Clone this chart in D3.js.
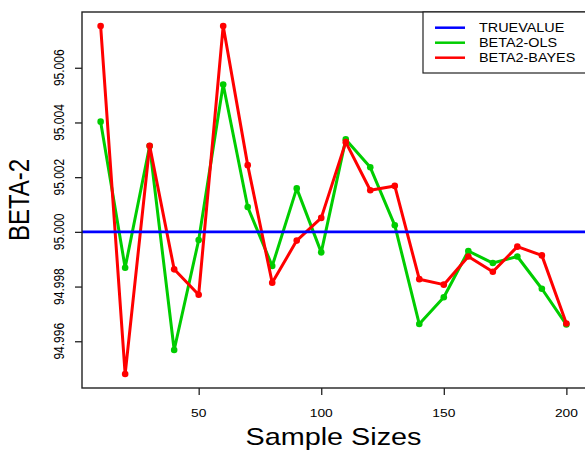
<!DOCTYPE html>
<html>
<head>
<meta charset="utf-8">
<script src="https://cdn.jsdelivr.net/npm/d3@7"></script>
<style>
  body { margin: 0; background: #fff; }
  text { font-family: "Liberation Sans", Arial, sans-serif; fill: #000; }
</style>
</head>
<body>
<div id="chart"></div>
<script>
// chart data
var sampleSizes = [10, 20, 30, 40, 50, 60, 70, 80, 90, 100, 110, 120, 130, 140, 150, 160, 170, 180, 190, 200];
var olsValues = [95.00403, 94.99869, 95.00314, 94.99568, 94.99970, 95.00539, 95.00091, 94.99875, 95.00159, 94.99925,
                 95.00338, 95.00236, 95.00024, 94.99663, 94.99761, 94.99930, 94.99886, 94.99910, 94.99792, 94.99661];
var bayesValues = [95.00753, 94.99480, 95.00315, 94.99863, 94.99770, 95.00753, 95.00244, 94.99814, 94.99968, 95.00051,
                   95.00328, 95.00152, 95.00168, 94.99827, 94.99807, 94.99910, 94.99854, 94.99946, 94.99914, 94.99665];
var trueValue = 95.0;
var xTicks = [50, 100, 150, 200];
var yTicks = [94.996, 94.998, 95.000, 95.002, 95.004, 95.006];
var legendLabels = ["TRUEVALUE", "BETA2-OLS", "BETA2-BAYES"];
var legendColors = ["#0000ff", "#00cd00", "#ff0000"];

//Width and height
var w = 585;
var h = 450;
var plotLeft = 82, plotRight = 585, plotTop = 12, plotBottom = 388;
var stretch = 1.2; // text in the picture is widened horizontally

// R-style 4% padding on each axis
function padded(values) {
    var ext = d3.extent(values);
    var r = ext[1] - ext[0];
    return [ext[0] - 0.04 * r, ext[1] + 0.04 * r];
}

var x = d3.scaleLinear()
          .domain(padded(sampleSizes))
          .range([plotLeft, plotRight]);

var y = d3.scaleLinear()
          .domain(padded(olsValues.concat(bayesValues)))
          .range([plotBottom, plotTop]);

var svg = d3.select("#chart")
            .append("svg")
            .attr("width", w)
            .attr("height", h);

svg.append("defs").append("clipPath")
   .attr("id", "plotclip")
   .append("rect")
   .attr("x", plotLeft).attr("y", plotTop)
   .attr("width", plotRight - plotLeft).attr("height", plotBottom - plotTop);

var plot = svg.append("g").attr("clip-path", "url(#plotclip)");

var line = d3.line()
             .x(function(d, i) { return x(sampleSizes[i]); })
             .y(function(d) { return y(d); });

// one series: line then points
function drawSeries(values, color) {
    plot.append("path")
        .datum(values)
        .attr("d", line)
        .attr("fill", "none")
        .attr("stroke", color)
        .attr("stroke-width", 3)
        .attr("stroke-linejoin", "round");

    plot.selectAll(null)
        .data(values)
        .enter()
        .append("circle")
        .attr("cx", function(d, i) { return x(sampleSizes[i]); })
        .attr("cy", function(d) { return y(d); })
        .attr("r", 3.3)
        .attr("fill", color);
}

drawSeries(olsValues, legendColors[1]);
drawSeries(bayesValues, legendColors[2]);

// true value line
plot.append("line")
    .attr("x1", plotLeft).attr("x2", plotRight)
    .attr("y1", y(trueValue)).attr("y2", y(trueValue))
    .attr("stroke", legendColors[0])
    .attr("stroke-width", 2.8);

// box
svg.append("rect")
   .attr("x", plotLeft).attr("y", plotTop)
   .attr("width", plotRight - plotLeft + 2).attr("height", plotBottom - plotTop)
   .attr("fill", "none")
   .attr("stroke", "#222")
   .attr("stroke-width", 1.4);

// x axis
var xAxis = d3.axisBottom(x)
              .tickValues(xTicks)
              .tickSize(7)
              .tickFormat(d3.format("d"));

var gx = svg.append("g")
            .attr("transform", "translate(0," + plotBottom + ")")
            .call(xAxis);
gx.select(".domain").remove();
gx.selectAll(".tick line").attr("stroke", "#222").attr("stroke-width", 1.3);
gx.selectAll(".tick text").remove();

svg.selectAll(".xlab")
   .data(xTicks)
   .enter()
   .append("text")
   .attr("transform", function(d) { return "translate(" + x(d) + ",417) scale(" + stretch + ",1)"; })
   .attr("text-anchor", "middle")
   .style("font-size", "11.5px")
   .text(function(d) { return d; });

// y axis
var yAxis = d3.axisLeft(y)
              .tickValues(yTicks)
              .tickSize(7);

var gy = svg.append("g")
            .attr("transform", "translate(" + plotLeft + ",0)")
            .call(yAxis);
gy.select(".domain").remove();
gy.selectAll(".tick line").attr("stroke", "#222").attr("stroke-width", 1.3);
gy.selectAll(".tick text").remove();

svg.selectAll(".ylab")
   .data(yTicks)
   .enter()
   .append("text")
   .attr("transform", function(d) { return "translate(64," + y(d) + ") scale(" + stretch + ",1) rotate(-90)"; })
   .attr("text-anchor", "middle")
   .style("font-size", "12px")
   .text(function(d) { return d3.format(".3f")(d); });

// axis titles
svg.append("text")
   .attr("transform", "translate(" + ((plotLeft + plotRight) / 2) + ",445) scale(" + stretch + ",1)")
   .attr("text-anchor", "middle")
   .style("font-size", "24px")
   .text("Sample Sizes");

svg.append("text")
   .attr("transform", "translate(29," + ((plotTop + plotBottom) / 2) + ") scale(" + stretch + ",1) rotate(-90)")
   .attr("text-anchor", "middle")
   .style("font-size", "24px")
   .text("BETA-2");

// legend
var legend = svg.append("g");
legend.append("rect")
      .attr("x", 423).attr("y", plotTop)
      .attr("width", 170).attr("height", 61)
      .attr("fill", "#fff")
      .attr("stroke", "#222")
      .attr("stroke-width", 1.2);

var rows = legend.selectAll(".row")
                 .data(legendLabels)
                 .enter()
                 .append("g")
                 .attr("transform", function(d, i) { return "translate(0," + (27.7 + i * 15) + ")"; });

rows.append("line")
    .attr("x1", 435).attr("x2", 465)
    .attr("y1", 0).attr("y2", 0)
    .attr("stroke", function(d, i) { return legendColors[i]; })
    .attr("stroke-width", 2.5);

rows.append("text")
    .attr("transform", "translate(479,4.5) scale(" + stretch + ",1)")
    .style("font-size", "12px")
    .text(function(d) { return d; });
</script>
</body>
</html>
